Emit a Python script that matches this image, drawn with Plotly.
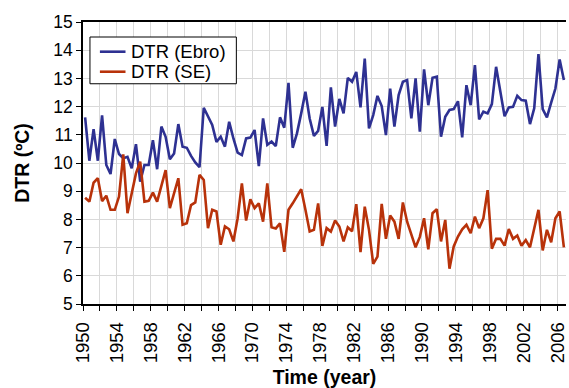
import plotly.graph_objects as go

# half-year positions (two values per year, 1950-2006)
years = [1950.25 + 0.5 * i for i in range(114)]

dtr_ebro = [
    11.62, 10.08, 11.20, 10.08, 11.69, 9.93, 9.61, 10.85, 10.32, 10.17,
    10.22, 9.81, 10.67, 9.34, 9.93, 9.93, 10.81, 9.78, 11.29, 10.93,
    10.13, 10.34, 11.38, 10.58, 10.54, 10.25, 10.02, 9.85, 11.96, 11.66,
    11.35, 10.75, 10.93, 10.58, 11.46, 10.87, 10.37, 10.28, 10.87, 10.90,
    11.17, 9.89, 11.58, 10.64, 10.76, 10.60, 11.62, 11.25, 12.84, 10.54,
    11.05, 11.76, 12.53, 11.58, 10.96, 11.14, 11.99, 10.61, 12.68, 11.29,
    12.27, 11.76, 13.02, 12.88, 13.23, 11.97, 13.70, 11.23, 11.70, 12.38,
    12.02, 10.99, 12.64, 11.29, 12.41, 12.88, 12.94, 11.58, 13.00, 11.11,
    13.32, 12.05, 13.02, 13.06, 10.93, 11.64, 11.88, 11.91, 12.19, 10.91,
    12.76, 12.05, 13.47, 11.55, 11.82, 11.76, 12.09, 13.41, 12.53, 11.66,
    11.97, 11.99, 12.38, 12.23, 12.21, 11.38, 11.94, 13.86, 11.91, 11.62,
    12.14, 12.64, 13.67, 12.94,
]

dtr_se = [
    8.77, 8.63, 9.30, 9.46, 8.65, 8.84, 8.34, 8.34, 8.81, 10.31,
    8.22, 8.93, 9.63, 10.05, 8.63, 8.66, 8.95, 8.63, 9.16, 9.75,
    8.40, 8.93, 9.46, 7.81, 7.86, 8.51, 8.60, 9.58, 9.40, 7.69,
    8.34, 8.28, 7.10, 7.75, 7.65, 7.22, 8.04, 9.28, 7.96, 8.71,
    8.40, 8.57, 7.92, 9.28, 7.72, 7.68, 7.86, 6.85, 8.34, 8.57,
    8.81, 9.07, 8.34, 7.57, 7.63, 8.57, 7.06, 7.69, 7.57, 7.96,
    7.75, 7.22, 7.72, 7.58, 8.54, 6.84, 8.45, 7.63, 6.42, 6.68,
    8.55, 7.31, 8.14, 7.92, 7.31, 8.60, 7.92, 7.49, 7.01, 7.38,
    8.04, 6.94, 8.22, 8.36, 7.22, 7.98, 6.25, 7.04, 7.39, 7.65,
    7.81, 7.51, 8.10, 7.69, 8.04, 9.04, 6.96, 7.31, 7.31, 7.07,
    7.66, 7.31, 7.43, 7.07, 7.27, 7.01, 7.66, 8.34, 6.90, 7.63,
    7.19, 8.04, 8.28, 7.01,
]

series_names = ["DTR (Ebro)", "DTR (SE)"]
series_colors = ["#2E3192", "#B8320A"]

x_tickvals = list(range(1950, 2007, 2))
x_ticktext = [str(v) if (v - 1950) % 4 == 0 else "" for v in x_tickvals]
y_tickvals = list(range(5, 16))

FONT = "Arial, Liberation Sans, sans-serif"

fig = go.Figure()
for name, vals, col in zip(series_names, [dtr_ebro, dtr_se], series_colors):
    fig.add_trace(go.Scatter(x=years, y=vals, mode="lines", name=name,
                             line=dict(color=col, width=2.6), showlegend=False))

# manual legend (box, line samples, labels) in paper coordinates
fig.add_shape(type="rect", xref="paper", yref="paper",
              x0=0.0144, x1=0.3175, y0=0.781, y1=0.9468,
              line=dict(color="black", width=1), fillcolor="white", layer="above")
leg_y = [0.8947, 0.8237]
for name, col, ly in zip(series_names, series_colors, leg_y):
    fig.add_shape(type="line", xref="paper", yref="paper",
                  x0=0.035, x1=0.088, y0=ly, y1=ly,
                  line=dict(color=col, width=2.6), layer="above")
    fig.add_annotation(text=name, xref="paper", yref="paper", x=0.0969, y=ly,
                       xanchor="left", yanchor="middle", showarrow=False,
                       borderpad=0,
                       font=dict(size=18.5, family=FONT, color="black"))

fig.update_layout(
    width=569, height=388,
    margin=dict(l=83, r=1, t=22, b=84),
    paper_bgcolor="white", plot_bgcolor="white",
    font=dict(family=FONT, color="black", size=17),
    showlegend=False,
    xaxis=dict(range=[1950, 2007], tickvals=x_tickvals, ticktext=x_ticktext,
               tickangle=-90, ticks="outside", ticklen=5, tickcolor="black",
               ticklabeloverflow="allow", ticklabelstandoff=4,
               showline=True, linecolor="black", linewidth=1.5, mirror=True,
               showgrid=True, gridcolor="#D9D9D9", gridwidth=1, zeroline=False,
               tickfont=dict(size=18.5),
               title=dict(text="<b>Time (year)</b>", font=dict(size=19.5), standoff=10)),
    yaxis=dict(range=[5, 15], tickvals=y_tickvals, ticks="outside", ticklen=5,
               tickcolor="black", showline=True, linecolor="black", linewidth=1.5,
               showgrid=True, gridcolor="#D9D9D9", gridwidth=1, zeroline=False,
               tickfont=dict(size=17.5),
               title=dict(text="<b>DTR (ºC)</b>", font=dict(size=19.5), standoff=18)),
)

fig.write_html("out.html")
